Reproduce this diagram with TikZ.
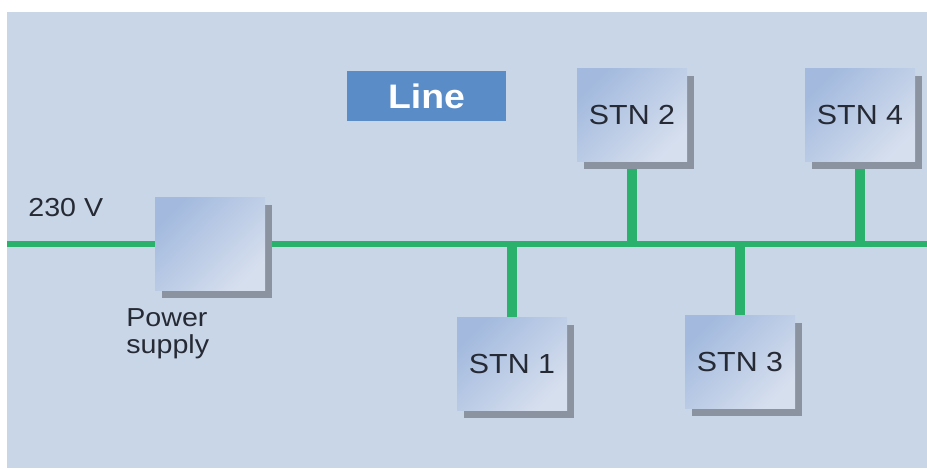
\documentclass[tikz,border=0pt]{standalone}
\usepackage{fontspec}
\setmainfont[FakeStretch=1.1]{Liberation Sans}
\usetikzlibrary{shadows}

\definecolor{panelblue}{RGB}{201,214,232}
\definecolor{busgreen}{RGB}{42,178,108}
\definecolor{tagblue}{RGB}{90,140,200}
\definecolor{boxdark}{RGB}{163,186,222}
\definecolor{boxlight}{RGB}{214,223,238}
\definecolor{shadowgray}{RGB}{140,147,160}
\definecolor{textdark}{RGB}{38,42,52}

\pgfdeclarelayer{panel}
\pgfdeclarelayer{wires}
\pgfsetlayers{panel,wires,main}

\tikzset{
  stn/.style={minimum width=55pt, minimum height=46.5pt, inner sep=0pt,
    top color=boxdark, bottom color=boxlight, shading angle=45,
    general shadow={fill=shadowgray, shadow xshift=3.5pt, shadow yshift=-3.5pt},
    text=textdark, font=\fontsize{13.8}{15}\selectfont},
  linetag/.style={fill=tagblue, text=white, minimum width=79.5pt,
    minimum height=25pt, inner sep=0pt, font=\bfseries\fontsize{17}{19}\selectfont},
  txt/.style={inner sep=0pt, text=textdark, font=\fontsize{13}{13.5}\selectfont},
  bus/.style={draw=busgreen, line width=3pt},
  drop/.style={draw=busgreen, line width=5pt},
}

\begin{document}
\begin{tikzpicture}[x=0.5pt,y=-0.5pt]
  \useasboundingbox (0,0) rectangle (927,468);

  % units
  \node[stn] (ps) at (210,244) {};
  \node[stn] (stn1) at (512,364) {STN 1};
  \node[stn] (stn2) at (632,115) {STN 2};
  \node[stn] (stn3) at (740,362) {STN 3};
  \node[stn] (stn4) at (860,115) {STN 4};

  \node[linetag] (tag) at (426.5,96) {Line};
  \node[txt, anchor=base west] (volt) at (28,216) {230 V};
  \node[txt, anchor=base west, align=left] (pslabel) at (126,353) {Power\\supply};

  % bus and taps
  \coordinate (busL) at (7,244);
  \coordinate (busR) at (927,244);
  \coordinate (j1) at (512,244);
  \coordinate (j2) at (632,244);
  \coordinate (j3) at (740,244);
  \coordinate (j4) at (860,244);

  \begin{pgfonlayer}{panel}
    \fill[panelblue] (7,12) rectangle (927,468);
  \end{pgfonlayer}
  \begin{pgfonlayer}{wires}
    \draw[bus] (busL) -- (ps) -- (busR);
    \draw[drop] (stn1) -- (j1);
    \draw[drop] (stn2) -- (j2);
    \draw[drop] (stn3) -- (j3);
    \draw[drop] (stn4) -- (j4);
  \end{pgfonlayer}
\end{tikzpicture}
\end{document}
